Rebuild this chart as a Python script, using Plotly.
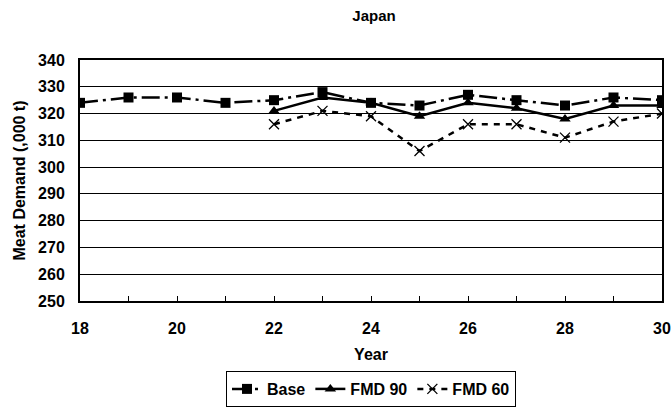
import plotly.graph_objects as go

years_base = [18, 19, 20, 21, 22, 23, 24, 25, 26, 27, 28, 29, 30]
base = [324, 326, 326, 324, 325, 328, 324, 323, 327, 325, 323, 326, 325]
years_fmd = [22, 23, 24, 25, 26, 27, 28, 29, 30]
fmd90 = [321, 326, 324, 319, 324, 322, 318, 323, 323]
fmd60 = [316, 321, 319, 306, 316, 316, 311, 317, 320]
x_ticks = list(range(18, 31))
x_labels = [str(v) if v % 2 == 0 else "" for v in x_ticks]
y_ticks = list(range(250, 341, 10))

FONT = "Liberation Sans, Arial, sans-serif"
FS = 16

fig = go.Figure()
fig.add_trace(go.Scatter(
    x=years_base, y=base, name="Base", mode="lines+markers",
    line=dict(color="black", width=2.5, dash="18px,5px,3px,5px"),
    marker=dict(symbol="square", size=10, color="black"),
))
fig.add_trace(go.Scatter(
    x=years_fmd, y=fmd90, name="FMD 90", mode="lines+markers",
    line=dict(color="black", width=2.5),
    marker=dict(symbol="triangle-up", size=10, color="black"),
))
fig.add_trace(go.Scatter(
    x=years_fmd, y=fmd60, name="FMD 60", mode="lines+markers",
    line=dict(color="black", width=2.5, dash="6px,6px"),
    marker=dict(symbol="x-thin-open", size=10, color="black",
                line=dict(color="black", width=1.3)),
))

fig.update_layout(
    width=672, height=408,
    margin=dict(l=80, r=10, t=60, b=107, autoexpand=False),
    paper_bgcolor="white", plot_bgcolor="white",
    font=dict(family=FONT, size=FS, color="black", weight="bold"),
    title=dict(text="Japan", x=374 / 672, xanchor="center",
               y=1 - 16 / 408, yanchor="middle",
               font=dict(family=FONT, size=15, color="black", weight="bold")),
    showlegend=True,
    legend=dict(orientation="h", x=0.5, xanchor="center",
                y=-70 / 241, yanchor="top",
                bordercolor="black", borderwidth=1, bgcolor="white",
                font=dict(family=FONT, size=FS, color="black", weight="bold"),
                itemwidth=30, tracegroupgap=0),
)
fig.update_xaxes(
    range=[18, 30], tickvals=x_ticks, ticktext=x_labels,
    ticks="inside", ticklen=5, tickcolor="black", tickwidth=1,
    showgrid=False, zeroline=False, automargin=False,
    showline=True, linecolor="black", linewidth=2, mirror=True,
    ticklabelstandoff=12,
    tickfont=dict(family=FONT, size=FS, color="black", weight="bold"),
    title=dict(text="Year", standoff=13,
               font=dict(family=FONT, size=FS, color="black", weight="bold")),
)
fig.update_yaxes(
    range=[250, 340], tickvals=y_ticks,
    showgrid=True, gridcolor="black", gridwidth=1,
    ticks="", zeroline=False, automargin=False,
    showline=True, linecolor="black", linewidth=2, mirror=True,
    ticklabelstandoff=10,
    tickfont=dict(family=FONT, size=FS, color="black", weight="bold"),
    title=dict(text="Meat Demand (,000 t)", standoff=8,
               font=dict(family=FONT, size=FS, color="black", weight="bold")),
)

fig.write_html("out.html")
